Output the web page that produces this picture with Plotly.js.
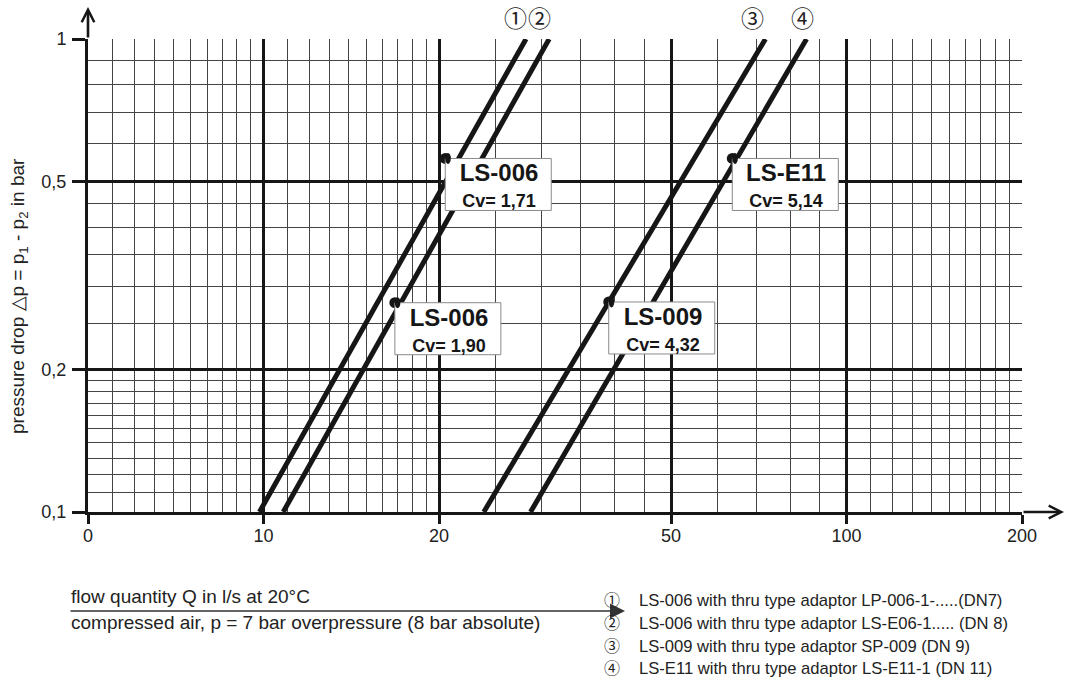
<!DOCTYPE html>
<html><head><meta charset="utf-8">
<script src="https://cdn.plot.ly/plotly-3.0.1.min.js"></script>
<style>html,body{margin:0;padding:0;background:#fff}#chart{width:1089px;height:679px}</style>
</head><body><div id="chart"></div>
<script>
// ---- axis ticks (flow Q in l/s, pressure drop in bar) ----
const majorQ = [5, 10, 20, 50, 100, 200];
const majorQText = ['0', '10', '20', '50', '100', '200'];
const minorQ = [5.5, 6, 6.5, 7, 7.5, 8, 8.5, 9, 9.5,
  11, 12, 13, 14, 15, 16, 17, 18, 19,
  25, 30, 35, 40, 45,
  60, 70, 80, 90,
  110, 120, 130, 140, 150, 160, 170, 180, 190];
const majorDp = [0.1, 0.2, 0.5, 1];
const majorDpText = ['0,1', '0,2', '0,5', '1'];
const minorDp = [0.11, 0.12, 0.13, 0.14, 0.15, 0.16, 0.17, 0.18, 0.19,
  0.25, 0.3, 0.35, 0.4, 0.45,
  0.6, 0.7, 0.8, 0.9];

// ---- characteristic lines: Q at dp = 0.1 bar and at dp = 1 bar ----
const lineIds = ['①', '②', '③', '④'];
const lineDp = [0.1, 1];
const lineQLow = [9.84, 10.81, 23.87, 28.71];
const lineQHigh = [28.2, 30.9, 72.6, 85.4];
const lineIdQ = [27.05, 29.74, 68.9, 83.95];

// ---- labelled points ----
const labelModel = ['LS-006', 'LS-006', 'LS-009', 'LS-E11'];
const labelCv = ['1,71', '1,90', '4,32', '5,14'];
const labelQ = [20.5, 16.8, 39.1, 63.7];
const labelDp = [0.559, 0.277, 0.278, 0.559];

// ---- legend ----
const legendText = [
  'LS-006 with thru type adaptor LP-006-1-.....(DN7)',
  'LS-006 with thru type adaptor LS-E06-1..... (DN 8)',
  'LS-009 with thru type adaptor SP-009 (DN 9)',
  'LS-E11 with thru type adaptor LS-E11-1 (DN 11)'
];
const xTitleText = 'flow quantity Q in l/s at 20°C';
const xSubText = 'compressed air, p = 7 bar overpressure (8 bar absolute)';
const yTitleText = 'pressure drop △p = p<sub>1</sub> - p<sub>2</sub> in bar';

const FONT = 'Liberation Sans, Arial, sans-serif';
const CJK = 'Noto Sans CJK JP, sans-serif';
const INK = '#161616';
const TXT = '#222222';

// plot area in pixels (for paper-coordinate helpers)
const PL = 88, PW = 934, PT = 39, PH = 473;
const px = v => (v - PL) / PW;
const py = v => (PT + PH - v) / PH;
// factor on the log y axis that corresponds to n pixels
const yPix = n => Math.pow(10, n / PH);

const traces = [];
for (let i = 0; i < lineIds.length; i++) {
  traces.push({
    type: 'scatter', mode: 'lines',
    x: [lineQLow[i], lineQHigh[i]], y: lineDp,
    line: {color: INK, width: 5}, hoverinfo: 'skip', showlegend: false
  });
}
traces.push({
  type: 'scatter', mode: 'markers', x: labelQ, y: labelDp,
  marker: {color: INK, size: 11}, hoverinfo: 'skip', showlegend: false
});

const BOXW = 106, BOXH = 52, DOT = 5.5;
const shapes = [];
const annotations = [];
for (let i = 0; i < labelModel.length; i++) {
  shapes.push({
    type: 'rect', layer: 'above', xref: 'x', yref: 'y',
    xsizemode: 'pixel', xanchor: labelQ[i], x0: 0, x1: BOXW,
    y0: labelDp[i], y1: labelDp[i] / yPix(BOXH),
    fillcolor: '#ffffff', line: {color: '#8a8a8a', width: 1}
  });
  annotations.push({
    xref: 'x', yref: 'y', x: Math.log10(labelQ[i]), y: Math.log10(labelDp[i]),
    xanchor: 'left', yanchor: 'top',
    width: BOXW, height: BOXH, borderpad: 0, showarrow: false,
    align: 'center', valign: 'middle',
    font: {family: FONT, size: 20, color: INK, weight: 'bold'},
    text: '<span style="font-size:24px">' + labelModel[i] + '</span><br>' +
          '<span style="font-size:18px">Cv= ' + labelCv[i] + '</span>'
  });
}
for (let i = 0; i < labelModel.length; i++) {
  shapes.push({
    type: 'circle', layer: 'above', xref: 'x', yref: 'y',
    xsizemode: 'pixel', xanchor: labelQ[i], x0: -DOT, x1: DOT,
    y0: labelDp[i] / yPix(DOT), y1: labelDp[i] * yPix(DOT),
    fillcolor: INK, line: {color: INK, width: 0}
  });
}
// circled ids above the lines
for (let i = 0; i < lineIds.length; i++) {
  annotations.push({
    xref: 'x', yref: 'paper', x: Math.log10(lineIdQ[i]), y: py(17),
    xanchor: 'center', yanchor: 'middle', showarrow: false,
    text: lineIds[i], font: {family: CJK, size: 23, color: TXT}
  });
}
// axis arrows
annotations.push({
  xref: 'paper', yref: 'paper', x: 0, y: py(7), ax: 0, ay: 32, text: '',
  showarrow: true, arrowhead: 5, arrowsize: 0.95, arrowwidth: 2.6, arrowcolor: INK
});
annotations.push({
  xref: 'paper', yref: 'paper', x: px(1064), y: 0, ax: -42, ay: 0, text: '',
  showarrow: true, arrowhead: 5, arrowsize: 0.95, arrowwidth: 2.6, arrowcolor: INK
});
// y title
annotations.push({
  xref: 'paper', yref: 'paper', x: px(19), y: py(296),
  xanchor: 'center', yanchor: 'middle', textangle: -90, showarrow: false,
  text: yTitleText, font: {family: FONT, size: 19, color: TXT}
});
// x title block
annotations.push({
  xref: 'paper', yref: 'paper', x: px(69), y: py(596),
  xanchor: 'left', yanchor: 'middle', showarrow: false,
  text: xTitleText, font: {family: FONT, size: 19, color: TXT}
});
annotations.push({
  xref: 'paper', yref: 'paper', x: px(69), y: py(622),
  xanchor: 'left', yanchor: 'middle', showarrow: false,
  text: xSubText, font: {family: FONT, size: 19, color: TXT}
});
annotations.push({
  xref: 'paper', yref: 'paper', x: px(625), y: py(611),
  ax: -(625 - 69), ay: 0, text: '', showarrow: true,
  arrowhead: 2, arrowsize: 2, arrowwidth: 1.5, arrowcolor: '#333'
});
// legend
const legendY = [600, 623, 646, 668];
for (let i = 0; i < legendText.length; i++) {
  annotations.push({
    xref: 'paper', yref: 'paper', x: px(612), y: py(legendY[i] - 1),
    xanchor: 'center', yanchor: 'middle', showarrow: false,
    text: lineIds[i], font: {family: CJK, size: 16, color: TXT}
  });
  annotations.push({
    xref: 'paper', yref: 'paper', x: px(637), y: py(legendY[i]),
    xanchor: 'left', yanchor: 'middle', showarrow: false,
    text: legendText[i], font: {family: FONT, size: 16.6, color: TXT}
  });
}

const layout = {
  width: 1089, height: 679,
  margin: {l: PL, r: 1089 - PL - PW, t: PT, b: 679 - PT - PH},
  paper_bgcolor: '#ffffff', plot_bgcolor: '#ffffff',
  font: {family: FONT, size: 18, color: TXT},
  showlegend: false,
  xaxis: {
    type: 'log', range: [Math.log10(5), Math.log10(200)],
    tickmode: 'array', tickvals: majorQ, ticktext: majorQText,
    ticks: 'outside', ticklen: 9, tickwidth: 3, tickcolor: INK,
    ticklabelstandoff: -4,
    showgrid: true, gridcolor: INK, gridwidth: 3,
    showline: true, linecolor: INK, linewidth: 3,
    minor: {tickmode: 'array', tickvals: minorQ, showgrid: true, gridcolor: '#444444', gridwidth: 1, ticks: ''},
    tickfont: {family: FONT, size: 18, color: TXT},
    zeroline: false, fixedrange: true
  },
  yaxis: {
    type: 'log', range: [-1, 0],
    tickmode: 'array', tickvals: majorDp, ticktext: majorDpText,
    ticks: 'outside', ticklen: 13, tickwidth: 3, tickcolor: INK,
    ticklabelstandoff: 2,
    showgrid: true, gridcolor: INK, gridwidth: 3,
    showline: true, linecolor: INK, linewidth: 3,
    minor: {tickmode: 'array', tickvals: minorDp, showgrid: true, gridcolor: '#444444', gridwidth: 1, ticks: ''},
    tickfont: {family: FONT, size: 18, color: TXT},
    automargin: false, zeroline: false, fixedrange: true
  },
  shapes: shapes,
  annotations: annotations
};

Plotly.newPlot('chart', traces, layout, {staticPlot: true, displayModeBar: false});
</script>
</body></html>
